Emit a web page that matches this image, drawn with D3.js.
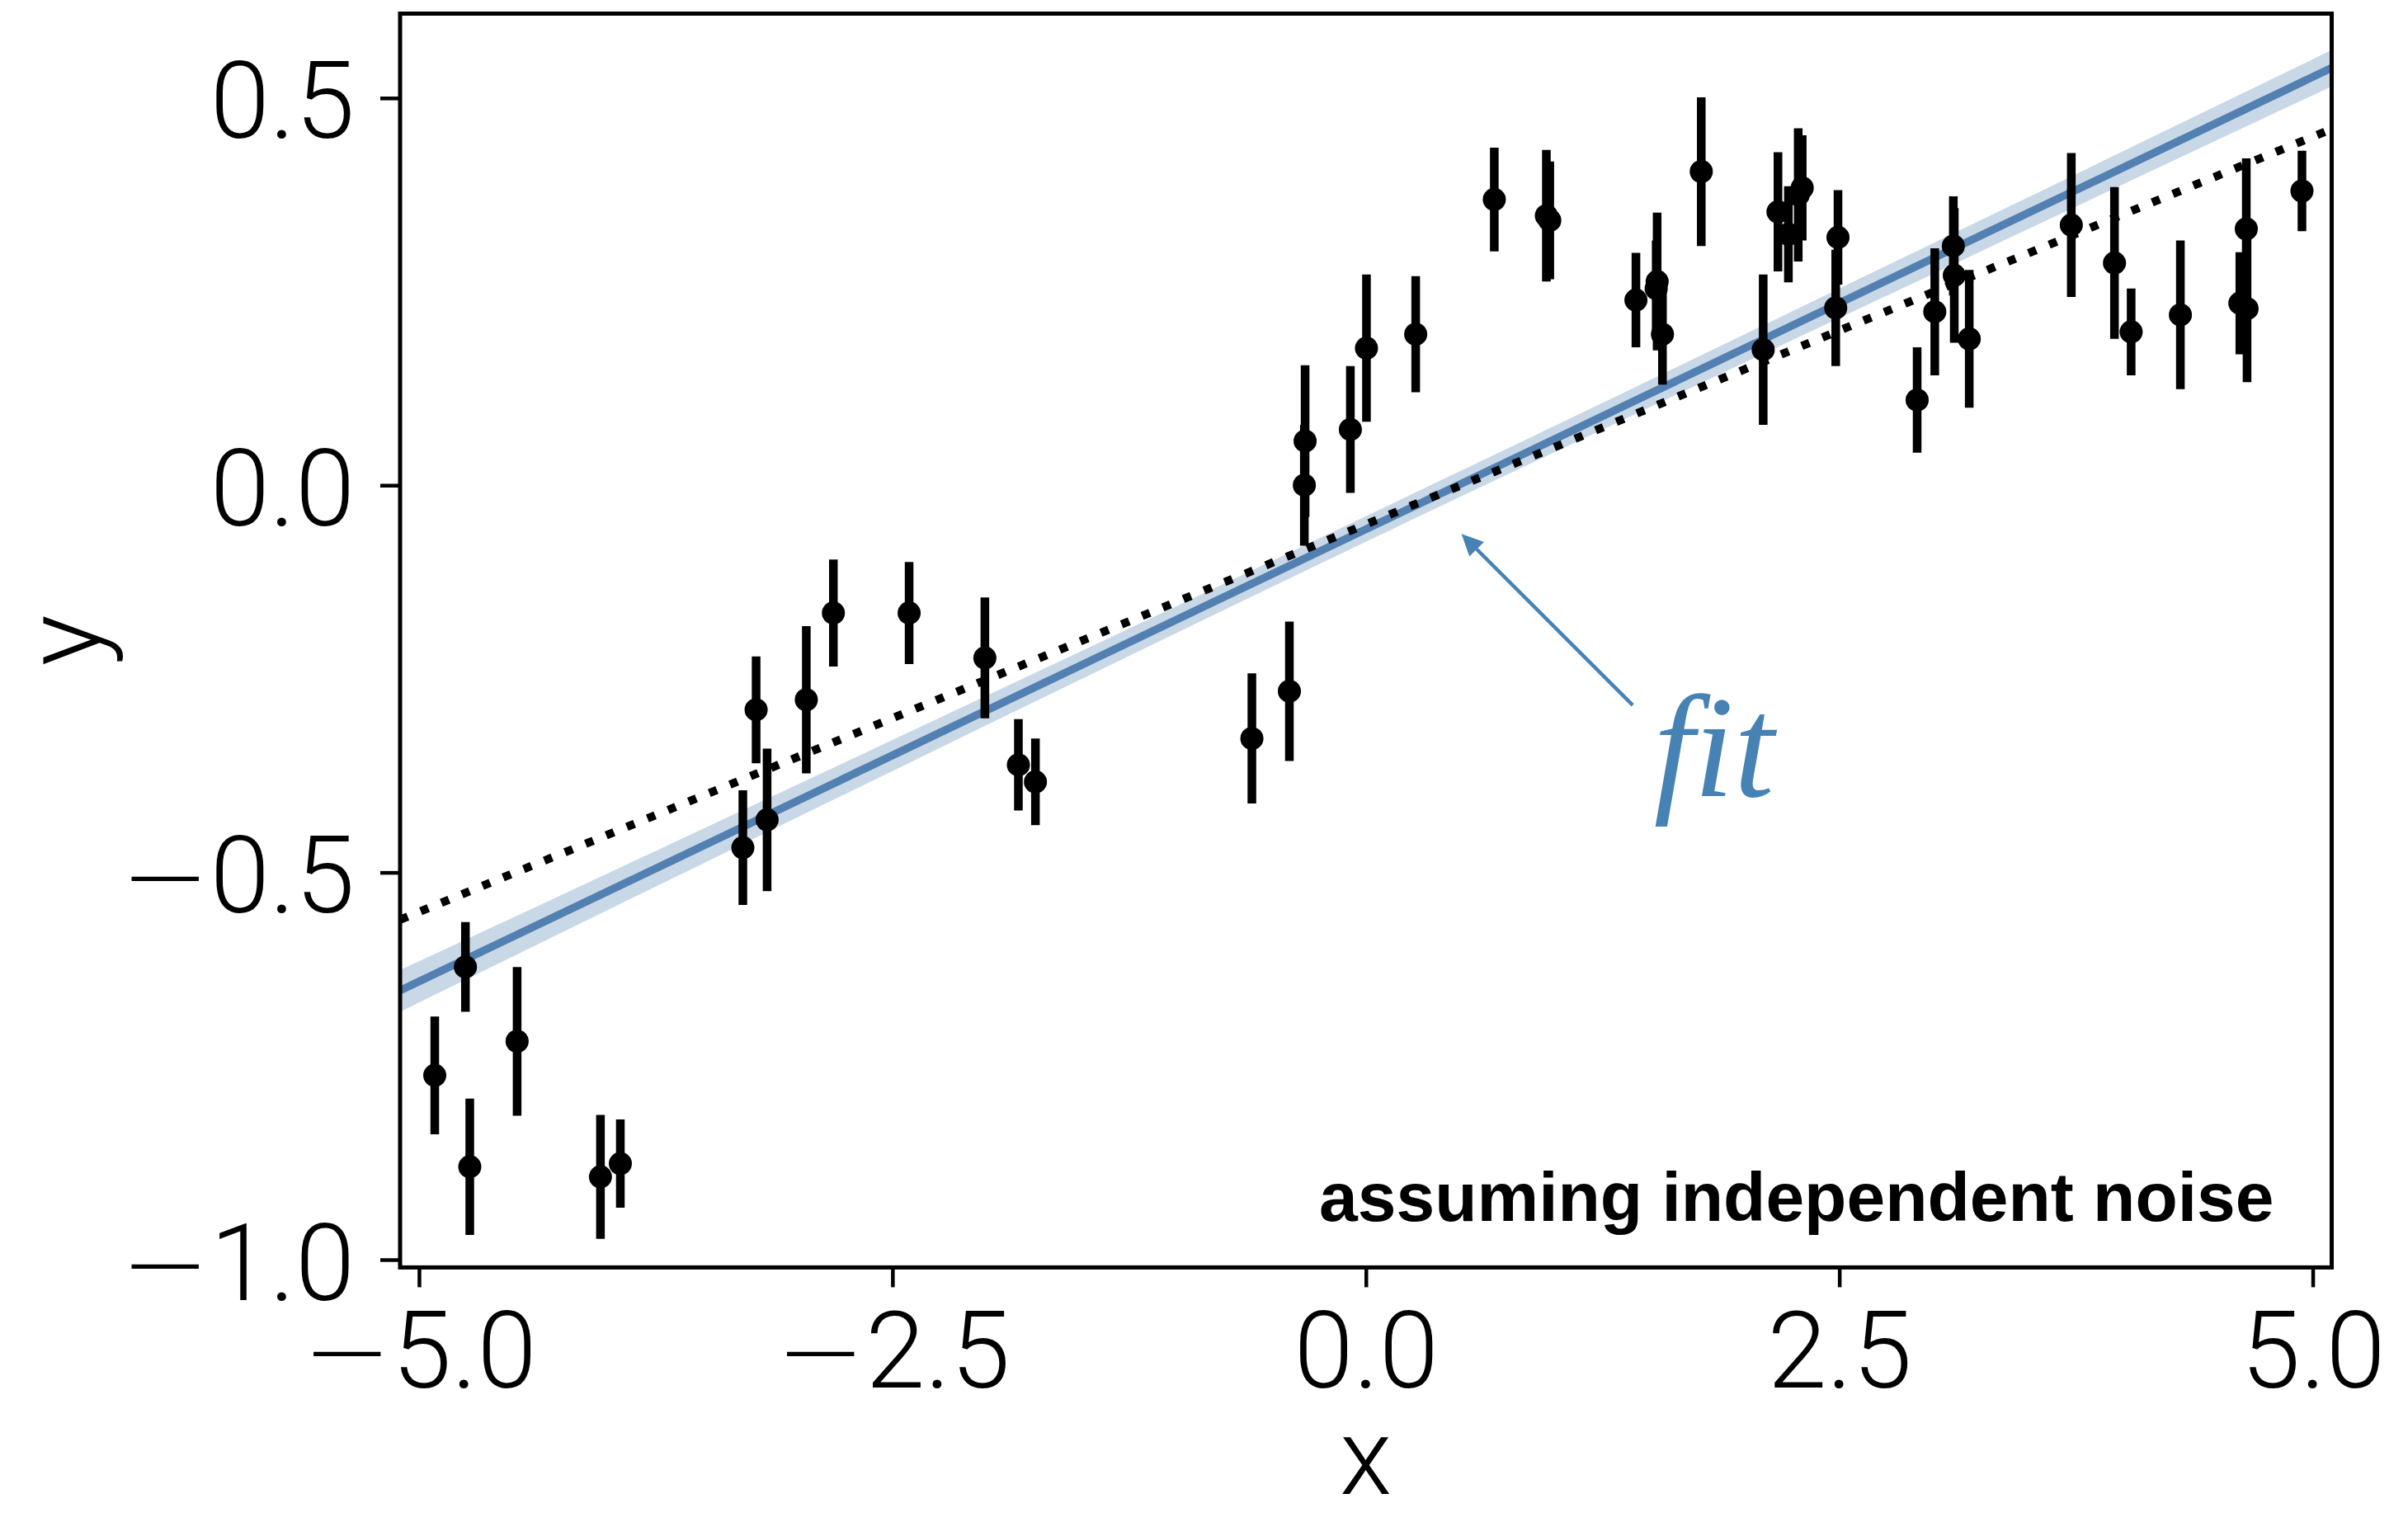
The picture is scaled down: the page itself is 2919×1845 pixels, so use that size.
<!DOCTYPE html>
<html>
<head>
<meta charset="utf-8">
<script src="https://d3js.org/d3.v7.min.js"></script>
<style>
body { margin: 0; background: #fff; }
.tick text { font-family: Roboto, "Liberation Sans", sans-serif; font-weight: 300; font-size: 130px; fill: #000; }
.tick line { stroke: #000; stroke-width: 4.5; }
.lbl { font-family: Roboto, "Liberation Sans", sans-serif; font-weight: 300; font-size: 130px; fill: #000; }
</style>
</head>
<body>
<svg id="chart" width="2919" height="1845"></svg>
<script>
// measured points: x, y and the half length of each error bar
const ptX = [-4.917, -4.755, -4.732, -4.482, -4.042, -3.937, -3.290, -3.220, -3.162, -2.955,
             -2.812, -2.412, -2.012, -1.835, -1.745, -0.602, -0.404, -0.321, -0.325, -0.082,
              0.003,  0.263,  0.678,  0.953,  0.971,  1.426,  1.538,  1.533,  1.566,  1.771,
              2.098,  2.176,  2.231,  2.283,  2.304,  2.481,  2.493,  2.911,  3.004,  3.102,
              3.107,  3.186,  3.725,  3.953,  4.041,  4.301,  4.615,  4.649,  4.653,  4.943];
const ptY = [-0.762, -0.622, -0.880, -0.718, -0.893, -0.876, -0.468, -0.290, -0.432, -0.277,
             -0.165, -0.165, -0.223, -0.361, -0.383, -0.327, -0.266,  0.057,  0.000,  0.072,
              0.177,  0.195,  0.369,  0.348,  0.342,  0.239,  0.263,  0.254,  0.195,  0.405,
              0.175,  0.353,  0.324,  0.375,  0.384,  0.229,  0.320,  0.110,  0.224,  0.309,
              0.271,  0.189,  0.336,  0.287,  0.198,  0.220,  0.235,  0.331,  0.228,  0.380];
const ptErr = [0.076, 0.058, 0.088, 0.096, 0.080, 0.057, 0.074, 0.069, 0.092, 0.095,
               0.069, 0.066, 0.078, 0.059, 0.056, 0.084, 0.090, 0.098, 0.078, 0.082,
               0.095, 0.075, 0.067, 0.085, 0.076, 0.061, 0.089, 0.062, 0.065, 0.096,
               0.097, 0.077, 0.062, 0.086, 0.068, 0.075, 0.061, 0.068, 0.082, 0.064,
               0.087, 0.089, 0.093, 0.098, 0.056, 0.096, 0.066, 0.091, 0.095, 0.052];

const xTicks = [-5, -2.5, 0, 2.5, 5];
const yTicks = [-1, -0.5, 0, 0.5];

// fitted line and its band
const fitX = [-5.1, 5.1];
const fitY = [-0.6525, 0.5389];
const bandX = [-5.1, -2.5, 0, 2.5, 5.1];
const bandLo = [-0.680, -0.369, -0.073, 0.216, 0.515];
const bandHi = [-0.626, -0.329, -0.040, 0.254, 0.562];

// dotted reference line
const olsX = [-5.1, 5.1];
const olsY = [-0.561, 0.460];

// annotation
const arrowFrom = [1.409, -0.284];
const arrowTo = [0.505, -0.063];
const fitLabelAt = [1.52, -0.401];
const noteText = "assuming independent noise";

const svg = d3.select("#chart");
const L = 485, R = 2826.5, T = 16.5, B = 1536.4;
const x = d3.scaleLinear().domain([-5.1, 5.1]).range([L, R]);
const y = d3.scaleLinear().domain([-1.01, 0.609]).range([B, T]);

svg.append("defs").append("clipPath").attr("id", "plot")
  .append("rect").attr("x", L).attr("y", T).attr("width", R - L).attr("height", B - T);

const g = svg.append("g").attr("clip-path", "url(#plot)");

// band
g.append("path")
  .datum(d3.range(bandX.length))
  .attr("fill", "#c9d8e7")
  .attr("d", d3.area()
    .x(i => x(bandX[i]))
    .y0(i => y(bandLo[i]))
    .y1(i => y(bandHi[i]))
    .curve(d3.curveMonotoneX));

const line = d3.line().x(d => x(d[0])).y(d => y(d[1]));

g.append("path")
  .datum(fitX.map((v, i) => [v, fitY[i]]))
  .attr("fill", "none").attr("stroke", "#5280b1").attr("stroke-width", 9.5)
  .attr("d", line);

g.append("path")
  .datum(olsX.map((v, i) => [v, olsY[i]]))
  .attr("fill", "none").attr("stroke", "#000").attr("stroke-width", 10)
  .attr("stroke-dasharray", "10 17")
  .attr("d", line);

// error bars and points
const idx = d3.range(ptX.length);
g.selectAll("line.err").data(idx).enter().append("line")
  .attr("class", "err")
  .attr("x1", i => x(ptX[i])).attr("x2", i => x(ptX[i]))
  .attr("y1", i => y(ptY[i] - ptErr[i])).attr("y2", i => y(ptY[i] + ptErr[i]))
  .attr("stroke", "#000").attr("stroke-width", 10.5);

g.selectAll("circle").data(idx).enter().append("circle")
  .attr("cx", i => x(ptX[i])).attr("cy", i => y(ptY[i]))
  .attr("r", 14).attr("fill", "#000");

// arrow
const p0 = [x(arrowFrom[0]), y(arrowFrom[1])];
const p1 = [x(arrowTo[0]), y(arrowTo[1])];
const ang = Math.atan2(p1[1] - p0[1], p1[0] - p0[0]);
const headL = 26, headW = 12.5;
const base = [p1[0] - headL * Math.cos(ang), p1[1] - headL * Math.sin(ang)];
svg.append("line")
  .attr("x1", p0[0]).attr("y1", p0[1]).attr("x2", base[0]).attr("y2", base[1])
  .attr("stroke", "#4682b4").attr("stroke-width", 4.5);
svg.append("polygon")
  .attr("points", [p1,
    [base[0] + headW * Math.sin(ang), base[1] - headW * Math.cos(ang)],
    [base[0] - headW * Math.sin(ang), base[1] + headW * Math.cos(ang)]].map(p => p.join(",")).join(" "))
  .attr("fill", "#4682b4");

svg.append("text")
  .attr("x", x(fitLabelAt[0])).attr("y", y(fitLabelAt[1]))
  .attr("font-family", "'Liberation Serif', serif").attr("font-style", "italic")
  .attr("font-size", 175).attr("fill", "#4682b4")
  .text("fit");

// note
svg.append("text")
  .attr("x", R - 70).attr("y", B - 56)
  .attr("text-anchor", "end")
  .attr("font-family", "'Liberation Sans', Arial, sans-serif").attr("font-weight", "bold")
  .attr("font-size", 84).attr("fill", "#000")
  .text(noteText);

// axes
const xAxis = svg.append("g").attr("transform", `translate(0,${B})`)
  .call(d3.axisBottom(x).tickValues(xTicks).tickSize(24).tickPadding(29).tickFormat(d3.format(".1f")));
const yAxis = svg.append("g").attr("transform", `translate(${L},0)`)
  .call(d3.axisLeft(y).tickValues(yTicks).tickSize(24).tickPadding(31).tickFormat(d3.format(".1f")));
xAxis.select(".domain").remove();
yAxis.select(".domain").remove();
yAxis.selectAll(".tick text").attr("dy", "0.37em");
svg.selectAll(".tick text").attr("font-size", null).attr("font-family", null);

// longer minus sign, like the original
svg.selectAll(".tick text").each(function() {
  const t = d3.select(this), s = t.text();
  if (s[0] !== "\u2212") return;
  t.text(null);
  t.append("tspan").attr("font-family", "'DejaVu Sans'").attr("font-weight", 200).text("\u2212");
  t.append("tspan").text(s.slice(1));
});

// frame
svg.append("rect")
  .attr("x", L).attr("y", T).attr("width", R - L).attr("height", B - T)
  .attr("fill", "none").attr("stroke", "#000").attr("stroke-width", 5);

svg.append("text").attr("class", "lbl")
  .attr("x", (L + R) / 2).attr("y", 1811).attr("text-anchor", "middle").text("x");
svg.append("text").attr("class", "lbl")
  .attr("transform", `translate(121,${(T + B) / 2}) rotate(-90)`)
  .attr("text-anchor", "middle").text("y");
</script>
</body>
</html>
